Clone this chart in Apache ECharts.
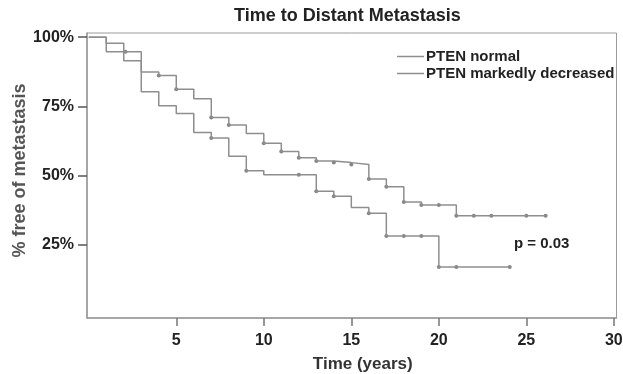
<!DOCTYPE html>
<html>
<head>
<meta charset="utf-8">
<script src="https://cdn.jsdelivr.net/npm/echarts@6/dist/echarts.min.js"></script>
<style>
  html, body { margin: 0; padding: 0; background: #fff; }
  #chart { width: 623px; height: 374px; }
</style>
</head>
<body>
<div id="chart"></div>
<script>
// Kaplan-Meier steps: time (years) -> % free of metastasis after that time
const normalTimes = [0, 1, 2, 3, 4, 5, 6, 7, 8, 9, 10, 11, 12, 13, 14, 15, 16, 17, 18, 19, 21, 26.1]
const normalSurv = [100, 97.8, 94.7, 87.4, 86.2, 81.2, 77.8, 71.0, 68.3, 65.2, 61.7, 58.7, 56.5, 55.3, 54.7, 54.0, 48.8, 46.0, 40.5, 39.4, 35.5, 35.5]
const normalCensored = [2.1, 4, 5, 7, 8, 10, 11, 12, 13, 14, 15, 16, 17, 18, 19, 20, 21, 22, 23, 25, 26.1]

const decTimes = [0, 1, 2, 3, 4, 5, 6, 7, 8, 9, 10, 13, 14, 15, 16, 17, 20, 24.05]
const decSurv = [100, 94.7, 91.5, 80.3, 75.2, 72.4, 65.6, 63.6, 57.0, 51.8, 50.3, 44.4, 42.6, 38.5, 36.4, 28.2, 17.0, 17.0]
const decCensored = [7, 9, 12, 13, 14, 16, 17, 18, 19, 20, 21, 24.05]

const xTicks = [5, 10, 15, 20, 25, 30]
const yTicks = [25, 50, 75, 100]
const seriesNames = ['PTEN normal', 'PTEN markedly decreased']
const pValue = 'p = 0.03'

const FONT = "'Liberation Sans', Arial, sans-serif"
const LINE = '#8e8e8e'

// curve level at time t (step function, value after last step <= t)
function levelAt(times, surv, t) {
  let v = surv[0]
  for (let i = 0; i < times.length; i++) {
    if (times[i] <= t) v = surv[i]
  }
  return v
}

function pairs(times, surv) {
  return times.map((t, i) => [t, surv[i]])
}

function censorPoints(times, surv, cens) {
  return cens.map(t => [t, levelAt(times, surv, t)])
}

const chart = echarts.init(document.getElementById('chart'))

const option = {
  animation: false,
  title: {
    text: 'Time to Distant Metastasis',
    left: 234,
    top: 7,
    padding: 0,
    textStyle: { fontFamily: FONT, fontSize: 18, fontWeight: 'bold', color: '#222' }
  },
  legend: {
    data: seriesNames,
    orient: 'vertical',
    left: 397,
    top: 49,
    icon: 'rect',
    itemWidth: 27,
    itemHeight: 1.5,
    itemGap: 2,
    padding: 0,
    textStyle: { fontFamily: FONT, fontSize: 15, fontWeight: 'bold', color: '#222', padding: [0, 0, 0, -3] }
  },
  grid: {
    left: 87,
    right: 6.5,
    top: 33,
    bottom: 56,
    containLabel: false,
    outerBoundsMode: 'none',
    show: true,
    borderColor: '#9a9a9a',
    borderWidth: 1
  },
  xAxis: {
    type: 'value',
    min: -0.1,
    max: 30.15,
    name: 'Time (years)',
    nameLocation: 'middle',
    nameGap: 38,
    nameTextStyle: { fontFamily: FONT, fontSize: 17, fontWeight: 'bold', color: '#333', padding: [0, 0, 0, 22] },
    splitLine: { show: false },
    axisLine: { onZero: false, lineStyle: { color: '#9a9a9a', width: 1.5 } },
    axisTick: { customValues: xTicks, length: 8, lineStyle: { color: '#777', width: 1.5 } },
    axisLabel: {
      customValues: xTicks,
      margin: 15,
      fontFamily: FONT, fontSize: 16, fontWeight: 'bold', color: '#222'
    }
  },
  yAxis: {
    type: 'value',
    min: -1.4,
    max: 101.5,
    name: '% free of metastasis',
    nameLocation: 'middle',
    nameGap: 58,
    nameMoveOverlap: false,
    nameTextStyle: { fontFamily: FONT, fontSize: 18, fontWeight: 'bold', color: '#555', padding: [0, 0, 0, 10] },
    splitLine: { show: false },
    axisLine: { onZero: false, lineStyle: { color: '#9a9a9a', width: 1.5 } },
    axisTick: { customValues: yTicks, length: 9, lineStyle: { color: '#555', width: 1.5 } },
    axisLabel: {
      customValues: yTicks,
      margin: 13,
      formatter: '{value}%',
      fontFamily: FONT, fontSize: 16, fontWeight: 'bold', color: '#222'
    }
  },
  graphic: [
    {
      type: 'text',
      left: 514,
      top: 236,
      style: { text: pValue, font: 'bold 15px ' + FONT, fill: '#222' }
    }
  ],
  series: [
    {
      name: seriesNames[0],
      type: 'line',
      step: 'end',
      symbol: 'none',
      lineStyle: { color: LINE, width: 1.5 },
      itemStyle: { color: LINE },
      data: pairs(normalTimes, normalSurv)
    },
    {
      name: seriesNames[1],
      type: 'line',
      step: 'end',
      symbol: 'none',
      lineStyle: { color: LINE, width: 1.5 },
      itemStyle: { color: LINE },
      data: pairs(decTimes, decSurv)
    },
    {
      name: seriesNames[0] + ' censored',
      type: 'scatter',
      symbol: 'circle',
      symbolSize: 4,
      itemStyle: { color: '#666' },
      data: censorPoints(normalTimes, normalSurv, normalCensored)
    },
    {
      name: seriesNames[1] + ' censored',
      type: 'scatter',
      symbol: 'circle',
      symbolSize: 4,
      itemStyle: { color: '#666' },
      data: censorPoints(decTimes, decSurv, decCensored)
    }
  ]
}

chart.setOption(option)
</script>
</body>
</html>
